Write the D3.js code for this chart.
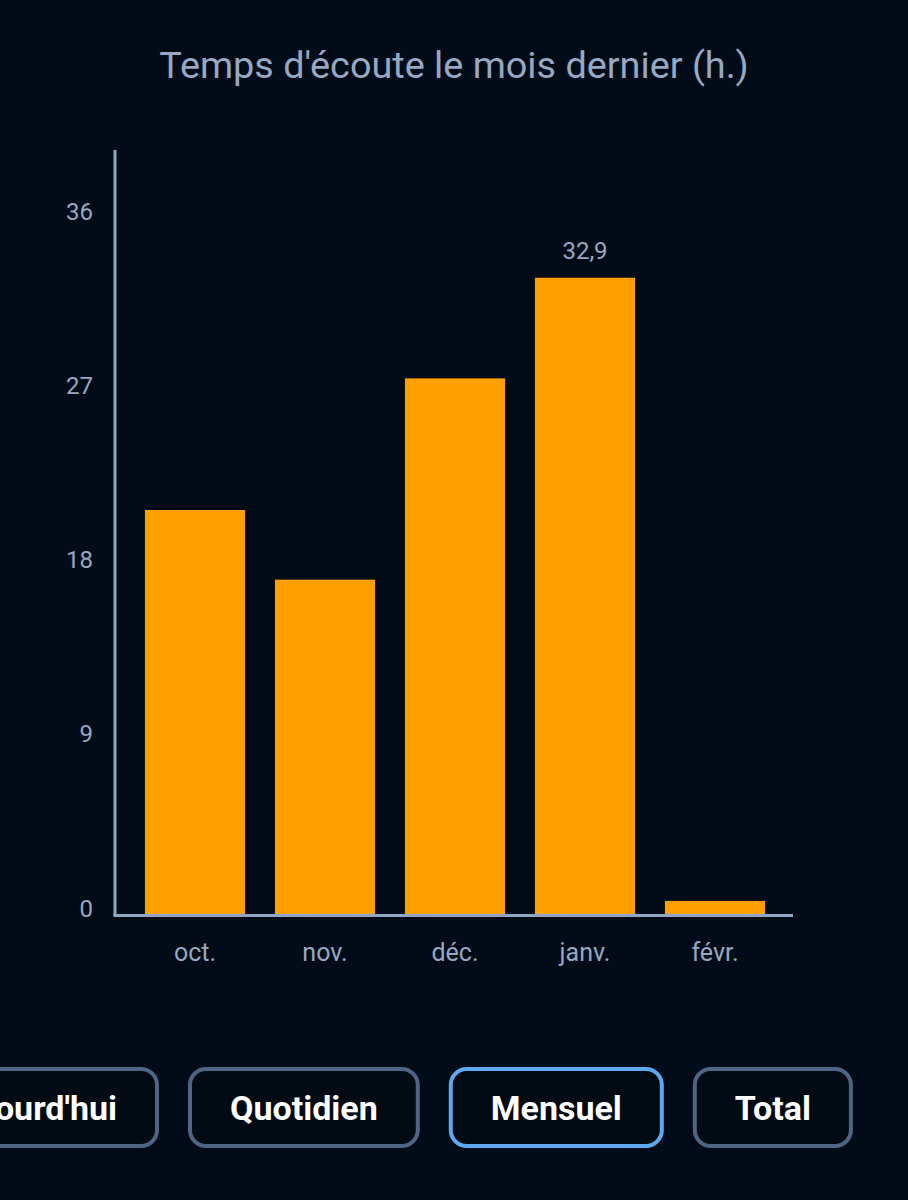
<!DOCTYPE html>
<html><head><meta charset="utf-8">
<script src="https://cdn.jsdelivr.net/npm/d3@7"></script>
<style>
html,body{margin:0;padding:0;background:#020c18;}
svg{display:block;}
</style></head>
<body>
<svg id="chart" width="908" height="1200"></svg>
<script>
const title = "Temps d'écoute le mois dernier (h.)";
const months = ["oct.", "nov.", "déc.", "janv.", "févr."];
const hours = [20.9, 17.3, 27.7, 32.9, 0.7];
const yTicks = [0, 9, 18, 27, 36];
const labelledMonth = "janv.";
const buttons = ["Aujourd'hui", "Quotidien", "Mensuel", "Total"];
const activeButton = "Mensuel";

const bg = "#020c18", axisCol = "#8ea5c4", textCol = "#97a8c1", barCol = "#ffa000";
const svg = d3.select("#chart");
svg.append("rect").attr("width", 908).attr("height", 1200).attr("fill", bg);

svg.append("text").attr("x", 454).attr("y", 78).attr("text-anchor", "middle")
  .attr("font-family", "Roboto").attr("font-size", 37.8).attr("fill", textCol).text(title);

const x = d3.scaleBand().domain(months).range([130, 780]).paddingInner(0.23).paddingOuter(0.115);
const y = d3.scaleLinear().domain([0, 39.5]).range([914.5, 150]);

svg.selectAll("rect.bar").data(months).join("rect").attr("class", "bar")
  .attr("x", d => x(d)).attr("width", x.bandwidth())
  .attr("y", (d, i) => y(hours[i])).attr("height", (d, i) => y(0) - y(hours[i]))
  .attr("fill", barCol);

// y axis
const yAxis = svg.append("g").attr("transform", "translate(114,0)")
  .call(d3.axisLeft(y).tickValues(yTicks).tickSize(0).tickPadding(21).tickFormat(d3.format("d")));
yAxis.select(".domain").remove();
yAxis.selectAll("text").attr("font-family", "Roboto").attr("font-size", 24).attr("fill", textCol)
  .attr("transform", "translate(0,-6)");
svg.append("line").attr("x1", 115).attr("x2", 115).attr("y1", 150).attr("y2", 916)
  .attr("stroke", axisCol).attr("stroke-width", 3);

// x axis
const xAxis = svg.append("g").attr("transform", "translate(0,915)")
  .call(d3.axisBottom(x).tickSize(0).tickPadding(28));
xAxis.select(".domain").remove();
xAxis.selectAll("text").attr("font-family", "Roboto").attr("font-size", 25).attr("fill", textCol);
svg.append("line").attr("x1", 113.5).attr("x2", 793).attr("y1", 915.5).attr("y2", 915.5)
  .attr("stroke", axisCol).attr("stroke-width", 3);

// value label
const fmt = v => d3.format(".1f")(v).replace(".", ",");
const li = months.indexOf(labelledMonth);
svg.append("text").attr("x", x(labelledMonth) + x.bandwidth() / 2).attr("y", y(hours[li]) - 19)
  .attr("text-anchor", "middle").attr("font-family", "Roboto").attr("font-size", 24)
  .attr("fill", textCol).text(fmt(hours[li]));

// buttons
const bY = 1069, bH = 77, pad = 40, gap = 33;
const bg2 = svg.append("g");
const items = buttons.map(b => {
  const t = bg2.append("text").attr("font-family", "Roboto").attr("font-weight", 700)
    .attr("font-size", 34).attr("fill", "#ffffff").attr("text-anchor", "middle")
    .attr("y", bY + bH / 2 + 12).text(b);
  return { b, t, w: t.node().getComputedTextLength() };
});
let cx = 190;
items.forEach((o, i) => { if (i >= 1) { o.left = cx; cx += o.w + 2 * pad + gap; } });
items[0].left = 157 - (items[0].w + 2 * pad);
items.forEach(o => {
  const w = o.w + 2 * pad;
  bg2.insert("rect", "text").attr("x", o.left).attr("y", bY).attr("width", w).attr("height", bH)
    .attr("rx", 16).attr("fill", "#020a14")
    .attr("stroke", o.b === activeButton ? "#5ea9ee" : "#4e6584").attr("stroke-width", 4);
  o.t.attr("x", o.left + w / 2);
});
</script>
</body></html>
